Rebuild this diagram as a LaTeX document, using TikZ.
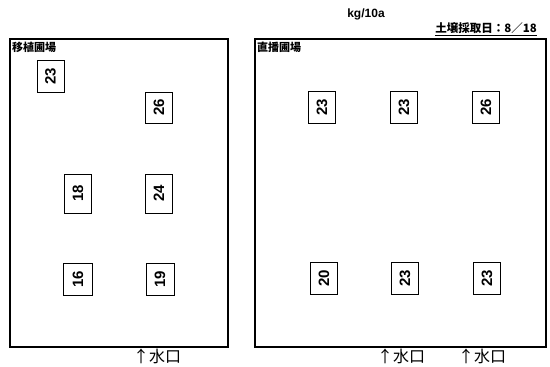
\documentclass[tikz,border=0pt]{standalone}
\usepackage{fontspec}
\setmainfont{Liberation Sans}
\newfontfamily\jp{Noto Sans CJK JP}
\begin{document}
\begin{tikzpicture}[x=1pt,y=-1pt,
  field/.style={draw,line width=1.2pt},
  val/.style={draw,line width=1pt,minimum width=27pt,minimum height=32pt,inner sep=0pt,font=\bfseries\fontsize{15}{15}\selectfont},
  valtext/.style={rotate=90,font=\bfseries\fontsize{15}{15}\selectfont},
  lbl/.style={font=\jp\bfseries\fontsize{11}{11}\selectfont,inner sep=0pt,anchor=north west},
  inlet/.style={font=\jp\fontsize{16}{16}\selectfont,inner sep=0pt}]
\useasboundingbox (0,0) rectangle (550,367);
% fields
\draw[field] (10,39) rectangle (228,347);
\draw[field] (255,39) rectangle (546,347);
\node[lbl] (lt) at (12,42) {移植圃場};
\node[lbl] (rt) at (257,42) {直播圃場};
% unit and date
\node[font=\bfseries\fontsize{12}{12}\selectfont,inner sep=0pt] (unit) at (366,14) {kg/10a};
\node[font=\jp\bfseries\fontsize{11.5}{11.5}\selectfont,inner sep=0pt,anchor=south east] (date) at (537,34) {土壌採取日：8／18};
\draw[line width=1pt] (date.south west)++(0,1.5) coordinate (u1) -- (u1 -| date.south east);
% left values
\node[val,minimum height=32pt] (l1) at (50.5,76) {};
\node[valtext] at (l1) {23};
\node[val,minimum height=31pt] (l2) at (159,107.5) {};
\node[valtext] at (l2) {26};
\node[val,minimum height=39pt] (l3) at (78,193.5) {};
\node[valtext] at (l3) {18};
\node[val,minimum height=39pt] (l4) at (159,193.5) {};
\node[valtext] at (l4) {24};
\node[val,minimum height=32pt,minimum width=29pt] (l5) at (78,279) {};
\node[valtext] at (l5) {16};
\node[val,minimum height=32pt,minimum width=28pt] (l6) at (160,279) {};
\node[valtext] at (l6) {19};
% right values
\node[val] (r1) at (322,107) {};
\node[valtext] at (r1) {23};
\node[val] (r2) at (404,107) {};
\node[valtext] at (r2) {23};
\node[val] (r3) at (486,107) {};
\node[valtext] at (r3) {26};
\node[val] (r4) at (324,278.5) {};
\node[valtext] at (r4) {20};
\node[val] (r5) at (405,278.5) {};
\node[valtext] at (r5) {23};
\node[val] (r6) at (487,278.5) {};
\node[valtext] at (r6) {23};
% inlets
\node[inlet] (i1) at (157,356) {↑水口};
\node[inlet] (i2) at (401,356) {↑水口};
\node[inlet] (i3) at (482,356) {↑水口};
\end{tikzpicture}
\end{document}
